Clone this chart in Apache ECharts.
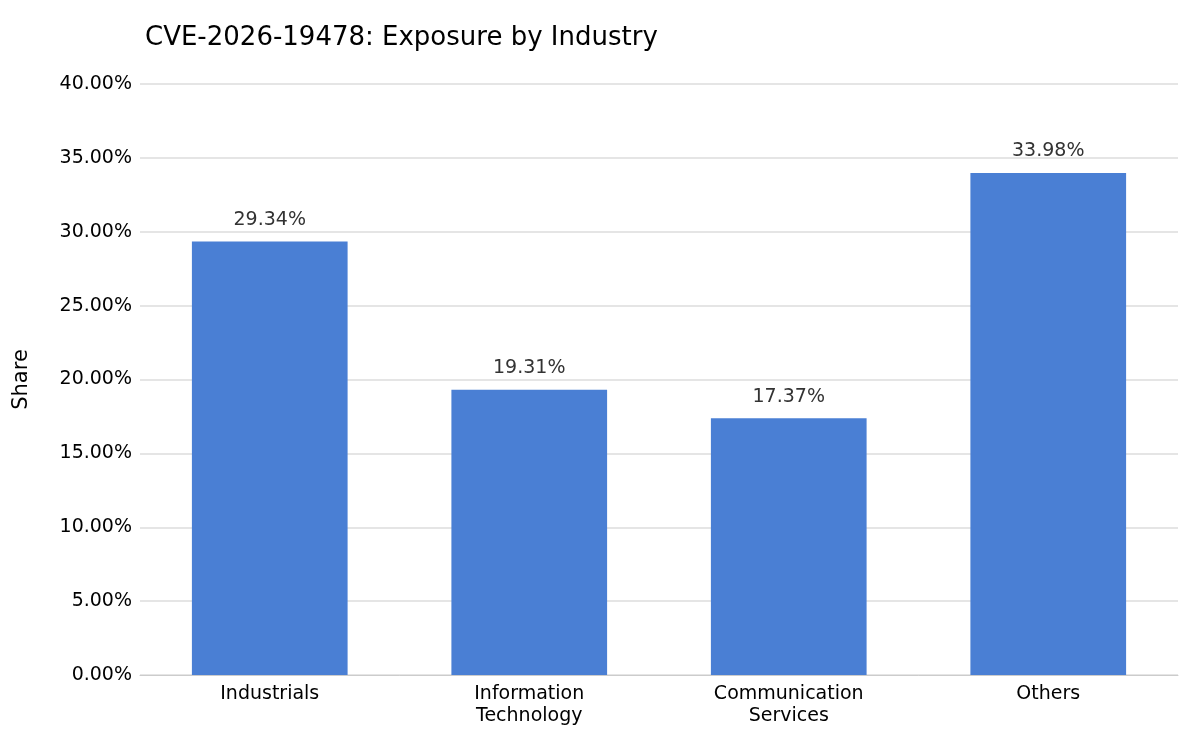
<!DOCTYPE html>
<html><head><meta charset="utf-8">
<script src="https://cdn.jsdelivr.net/npm/echarts@6/dist/echarts.min.js"></script>
<style>html,body{margin:0;padding:0;background:#fff}#c{width:1200px;height:750px}</style>
</head><body><div id="c"></div>
<script>
const categories = ["Industrials", "Information\nTechnology", "Communication\nServices", "Others"];
const values = [29.34, 19.31, 17.37, 33.98];
const chart = echarts.init(document.getElementById('c'));
const F = 'DejaVu Sans';
chart.setOption({
  animation: false,
  title: { text: 'CVE-2026-19478: Exposure by Industry', left: 140, top: 20,
    textStyle: { fontFamily: F, fontSize: 26, fontWeight: 'normal', color: '#000' } },
  grid: { left: 140, right: 22, top: 84, bottom: 75 },
  xAxis: { type: 'category', data: categories,
    axisLine: { lineStyle: { color: '#ccc' } }, axisTick: { show: false },
    axisLabel: { fontFamily: F, fontSize: 19, color: '#000', margin: 8, lineHeight: 22 } },
  yAxis: { type: 'value', min: 0, max: 40, interval: 5,
    name: 'Share', nameLocation: 'middle', nameGap: 108,
    nameTextStyle: { fontFamily: F, fontSize: 21, color: '#000' },
    axisLabel: { fontFamily: F, fontSize: 19, color: '#000', formatter: v => v.toFixed(2) + '%', margin: 8 },
    splitLine: { lineStyle: { color: '#ddd', width: 1.5 } } },
  series: [{ type: 'bar', data: values, barWidth: '60%',
    itemStyle: { color: '#4a7fd4' },
    label: { show: true, position: 'top', distance: 12, fontFamily: F, fontSize: 19, color: '#333',
      formatter: p => p.value.toFixed(2) + '%' } }]
});
</script></body></html>
